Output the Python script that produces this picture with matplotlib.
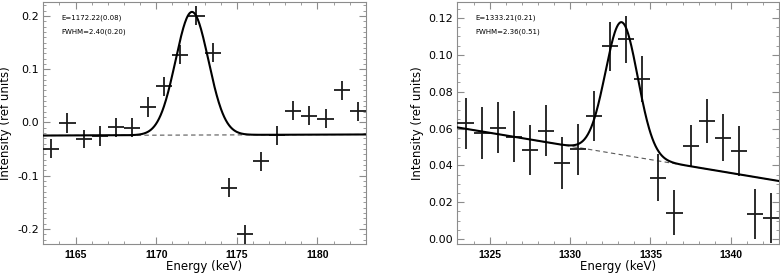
import numpy as np
import matplotlib
matplotlib.use("Agg")
import matplotlib.pyplot as plt
from matplotlib.ticker import MultipleLocator

plt.rcParams['font.family'] = ['DejaVu Sans']

# ---- left panel: 1172 keV line ----
left_e = [1163.5, 1164.5, 1165.5, 1166.5, 1167.5, 1168.5, 1169.5, 1170.5, 1171.5, 1172.5,
          1173.5, 1174.5, 1175.5, 1176.5, 1177.5, 1178.5, 1179.5, 1180.5, 1181.5, 1182.5]
left_y = [-0.049, -0.001, -0.031, -0.026, -0.009, -0.010, 0.029, 0.068, 0.127, 0.200,
          0.131, -0.122, -0.210, -0.073, -0.024, 0.022, 0.013, 0.007, 0.060, 0.021]
left_err = [0.018, 0.018, 0.017, 0.019, 0.018, 0.018, 0.018, 0.018, 0.018, 0.018,
            0.018, 0.018, 0.018, 0.018, 0.018, 0.018, 0.018, 0.018, 0.018, 0.018]
left_fit = dict(centre=1172.22, fwhm=2.40, amp=0.231, bg0=-0.0245, bg1=-0.0225)
left_text = ["E=1172.22(0.08)", "FWHM=2.40(0.20)"]

# ---- right panel: 1333 keV line ----
right_e = [1323.5, 1324.5, 1325.5, 1326.5, 1327.5, 1328.5, 1329.5, 1330.5, 1331.5, 1332.5,
           1333.5, 1334.5, 1335.5, 1336.5, 1337.5, 1338.5, 1339.5, 1340.5, 1341.5, 1342.5]
right_y = [0.0628, 0.0577, 0.0605, 0.0556, 0.0483, 0.0588, 0.0414, 0.0487, 0.0668, 0.1048,
           0.1084, 0.0867, 0.0333, 0.0143, 0.0505, 0.0642, 0.0550, 0.0478, 0.0136, 0.0112]
right_err = [0.0140, 0.0140, 0.0138, 0.0140, 0.0136, 0.0138, 0.0140, 0.0138, 0.0138, 0.0133,
             0.0129, 0.0125, 0.0129, 0.0122, 0.0114, 0.0118, 0.0129, 0.0134, 0.0138, 0.0136]
right_fit = dict(centre=1333.21, fwhm=2.36, amp=0.072, bg0=0.0606, bg1=0.0315)
right_text = ["E=1333.21(0.21)", "FWHM=2.36(0.51)"]

SPINE = '0.55'


def draw_panel(ax, e, y, err, fit, text, xlim, ylim, ymaj, ymin, yfmt, ylab_x):
    ax.errorbar(e, y, yerr=err, xerr=0.5, fmt='none', ecolor='#1a1a1a',
                elinewidth=1.3, capsize=0, zorder=3)

    xs = np.linspace(xlim[0], xlim[1], 600)
    bg = fit['bg0'] + (fit['bg1'] - fit['bg0']) * (xs - xlim[0]) / (xlim[1] - xlim[0])
    sig = fit['fwhm'] / 2.3548
    model = bg + fit['amp'] * np.exp(-0.5 * ((xs - fit['centre']) / sig) ** 2)
    ax.plot(xs, bg, color='0.35', lw=0.8, ls=(0, (4, 3)), zorder=2)
    ax.plot(xs, model, color='black', lw=1.5, zorder=4)

    ax.set_xlim(*xlim)
    ax.set_ylim(*ylim)
    ax.xaxis.set_major_locator(MultipleLocator(5))
    ax.xaxis.set_minor_locator(MultipleLocator(1))
    ax.yaxis.set_major_locator(MultipleLocator(ymaj))
    ax.yaxis.set_minor_locator(MultipleLocator(ymin))
    ax.yaxis.set_major_formatter(matplotlib.ticker.FormatStrFormatter(yfmt))

    ax.tick_params(which='both', direction='in', top=True, right=True, color=SPINE)
    ax.tick_params(which='major', length=5, width=0.8)
    ax.tick_params(which='minor', length=2.5, width=0.6)
    ax.tick_params(axis='y', labelsize=8, pad=3)
    ax.tick_params(axis='x', labelsize=7.5, pad=4)
    for lab in ax.get_xticklabels():
        lab.set_fontweight('bold')
        lab.set_family('Liberation Sans')
    for s in ax.spines.values():
        s.set_color(SPINE)
        s.set_linewidth(0.8)

    ax.set_xlabel('Energy (keV)', fontsize=8.5, labelpad=0)
    ax.set_ylabel('Intensity (ref units)', fontsize=8.5)
    ax.yaxis.set_label_coords(ylab_x, 0.5)

    ax.text(0.055, 0.935, text[0], transform=ax.transAxes, fontsize=5, va='center')
    ax.text(0.055, 0.878, text[1], transform=ax.transAxes, fontsize=5, va='center')


fig = plt.figure(figsize=(7.8, 2.75), dpi=100)
ax1 = fig.add_axes([0.0555, 0.1127, 0.4135, 0.88])
ax2 = fig.add_axes([0.5865, 0.1127, 0.4122, 0.88])

draw_panel(ax1, left_e, left_y, left_err, left_fit, left_text,
           (1163, 1183), (-0.228, 0.226), 0.1, 0.01, '%.1f', -0.098)
draw_panel(ax2, right_e, right_y, right_err, right_fit, right_text,
           (1323, 1343), (-0.0027, 0.1287), 0.02, 0.005, '%.2f', -0.105)

fig.savefig('out.png', dpi=100)
